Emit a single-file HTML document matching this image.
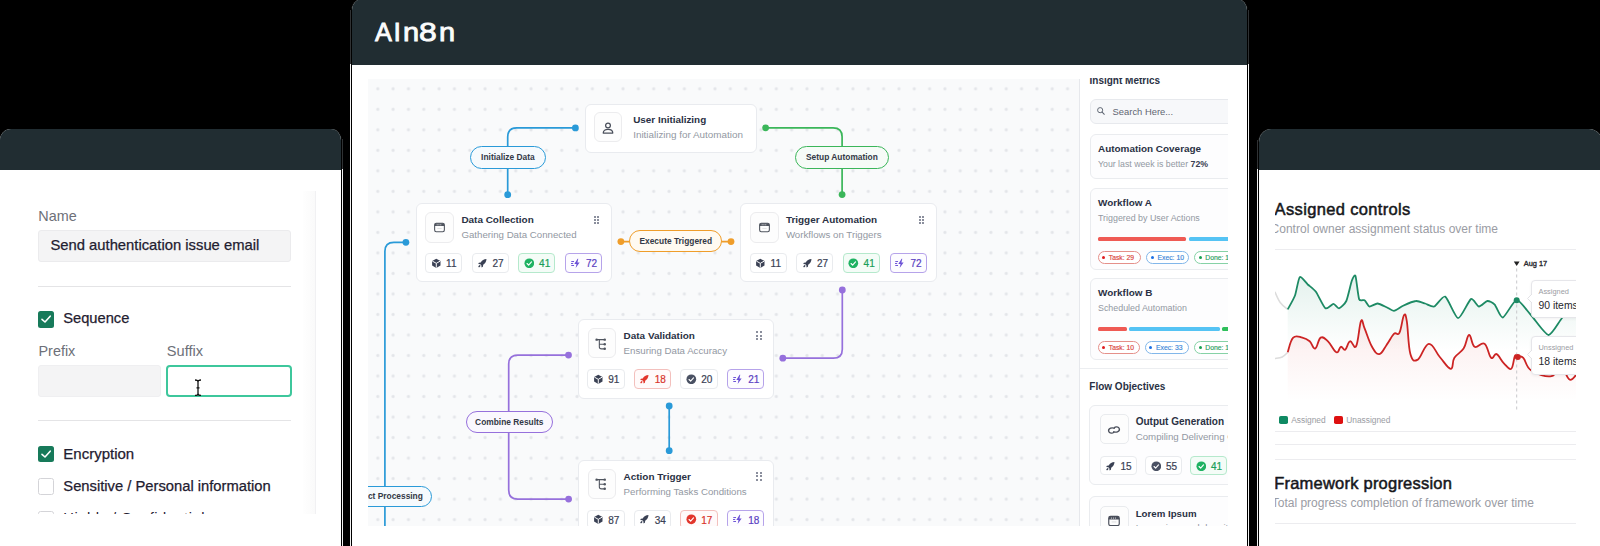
<!DOCTYPE html><html><head><meta charset="utf-8"><style>
*{box-sizing:border-box;margin:0;padding:0}
html,body{width:1600px;height:546px;overflow:hidden;background:#000}
body{position:relative;font-family:"Liberation Sans",sans-serif}
.a{position:absolute}
.t{position:absolute;white-space:nowrap;line-height:1}
.panel{position:absolute;background:#fff;overflow:hidden}
</style></head><body>
<div class="a" style="left:342px;top:139px;width:1px;height:410px;background:linear-gradient(#303234 0,#303234 30px,#f2f2f2 30px)"></div>
<div class="panel" style="left:0;top:129px;width:342px;height:430px;border-radius:11px 11px 0 0;border-right:1px solid #000">
<div class="a" style="left:0.00px;top:0.00px;width:342.00px;height:40.50px;background:#212d32"></div>
<div class="a" style="left:303.00px;top:62.00px;width:13.00px;height:323.00px;background:linear-gradient(90deg,#fefefe,#fafafa);border-right:1px solid #f1f1f3"></div>
<div class="a" style="left:0;top:40.5px;width:303px;height:344.2px;overflow:hidden">
<div class="t" style="left:38.30px;top:39.61px;font-size:14.4px;font-weight:400;color:#6d7078;">Name</div>
<div class="a" style="left:38.30px;top:60.10px;width:252.50px;height:32.00px;background:#f4f4f5;border:1px solid #ebebed;border-radius:3px"></div>
<div class="t" style="left:50.40px;top:68.57px;font-size:14.8px;font-weight:400;color:#1f2030;-webkit-text-stroke:0.25px #1f2030">Send authentication issue email</div>
<div class="a" style="left:38.30px;top:116.30px;width:252.50px;height:1.00px;background:#e4e4e6"></div>
<div class="a" style="left:38.00px;top:141.90px;width:16.20px;height:16.20px;background:#177a5a;border-radius:2.5px"><svg width="16" height="16" viewBox="0 0 16 16" style="position:absolute;left:0;top:0"><path d="M4 8.3 L7 11 L12.2 5.2" stroke="#fff" stroke-width="1.6" fill="none" stroke-linecap="round" stroke-linejoin="round"/></svg></div>
<div class="t" style="left:63.20px;top:141.45px;font-size:14.7px;font-weight:400;color:#1f2030;-webkit-text-stroke:0.25px #1f2030">Sequence</div>
<div class="t" style="left:38.50px;top:174.81px;font-size:14.4px;font-weight:400;color:#6d7078;">Prefix</div>
<div class="t" style="left:166.80px;top:174.64px;font-size:14.6px;font-weight:400;color:#6d7078;">Suffix</div>
<div class="a" style="left:38.30px;top:195.00px;width:122.80px;height:32.00px;background:#f4f4f5;border:1px solid #efeff1;border-radius:3px"></div>
<div class="a" style="left:166.00px;top:195.00px;width:125.60px;height:32.00px;background:#fff;border:2px solid #3ec79c;border-radius:4px"></div>
<svg class="a" style="left:194.00px;top:209.00px;" width="8" height="17.5" viewBox="0 0 8 17.5"><path d="M1 1 Q4 1 4 3 Q4 1 7 1 M4 3 V14.5 M1 16.5 Q4 16.5 4 14.5 Q4 16.5 7 16.5 M2.5 8.8 H5.5" stroke="#111" stroke-width="1.3" fill="none"/></svg>
<div class="a" style="left:38.30px;top:250.60px;width:252.50px;height:1.00px;background:#e4e4e6"></div>
<div class="a" style="left:38.00px;top:276.50px;width:16.20px;height:16.20px;background:#177a5a;border-radius:2.5px"><svg width="16" height="16" viewBox="0 0 16 16" style="position:absolute;left:0;top:0"><path d="M4 8.3 L7 11 L12.2 5.2" stroke="#fff" stroke-width="1.6" fill="none" stroke-linecap="round" stroke-linejoin="round"/></svg></div>
<div class="t" style="left:63.30px;top:276.10px;font-size:15px;font-weight:400;color:#1f2030;-webkit-text-stroke:0.25px #1f2030">Encryption</div>
<div class="a" style="left:38.00px;top:308.90px;width:16.20px;height:16.20px;background:#fff;border:1.3px solid #d4d4d8;border-radius:2.5px"></div>
<div class="t" style="left:63.30px;top:309.01px;font-size:14.75px;font-weight:400;color:#1f2030;-webkit-text-stroke:0.25px #1f2030">Sensitive / Personal information</div>
<div class="a" style="left:38.00px;top:341.50px;width:16.20px;height:16.20px;background:#fff;border:1.3px solid #d4d4d8;border-radius:2.5px"></div>
<div class="t" style="left:63.30px;top:341.91px;font-size:14.75px;font-weight:400;color:#1f2030;letter-spacing:0.5px">Highly / Confidential</div>
</div>
</div>
<div class="a" style="left:350px;top:10px;width:1px;height:540px;background:linear-gradient(#303234 0,#303234 54.5px,#f2f2f2 54.5px)"></div>
<div class="a" style="left:1248px;top:10px;width:1px;height:540px;background:linear-gradient(#303234 0,#303234 54.5px,#f2f2f2 54.5px)"></div>
<div class="panel" style="left:351px;top:-1px;width:897px;height:560px;border-radius:11px 11px 0 0;border-left:1px solid #000;border-right:1px solid #000">
<div class="a" style="left:0.00px;top:0.00px;width:895.00px;height:65.70px;background:#212d32"></div>
<div class="t" style="left:23.30px;top:20.18px;font-size:26.6px;font-weight:400;color:#fbfcfc;-webkit-text-stroke:0.85px #fbfcfc;transform:scaleX(0.95);transform-origin:0 0">A</div>
<div class="t" style="left:41.60px;top:20.18px;font-size:26.6px;font-weight:400;color:#fbfcfc;-webkit-text-stroke:0.85px #fbfcfc;transform:scaleX(1.0);transform-origin:0 0">I</div>
<div class="t" style="left:50.50px;top:20.18px;font-size:26.6px;font-weight:400;color:#fbfcfc;-webkit-text-stroke:0.85px #fbfcfc;transform:scaleX(1.09);transform-origin:0 0">n</div>
<div class="t" style="left:67.40px;top:20.18px;font-size:26.6px;font-weight:400;color:#fbfcfc;-webkit-text-stroke:0.85px #fbfcfc;transform:scaleX(1.2);transform-origin:0 0">8</div>
<div class="t" style="left:87.00px;top:20.18px;font-size:26.6px;font-weight:400;color:#fbfcfc;-webkit-text-stroke:0.85px #fbfcfc;transform:scaleX(1.09);transform-origin:0 0">n</div>
<div class="a" style="left:16px;top:79.5px;width:711.5px;height:447.0px;overflow:hidden;background-color:#f9fafb;background-image:radial-gradient(circle,#e3e5e9 0.9px,rgba(227,229,233,0) 2.1px);background-size:15.33px 20.52px;background-position:2.13px -0.46px;border-right:1px solid #e6e8ec">
<svg class="a" style="left:0;top:0" width="711.5" height="447.0" viewBox="368 78.5 711.5 447.0"><path d="M575.4,127.4 H516.7 Q507.7,127.4 507.7,136.4 V194.2" stroke="#2a9ad8" stroke-width="1.7" fill="none"/><circle cx="575.4" cy="127.4" r="3.4" fill="#2a9ad8"/><circle cx="507.7" cy="194.2" r="3.4" fill="#2a9ad8"/><path d="M765.6,127.3 H833.1 Q842.1,127.3 842.1,136.3 V194.1" stroke="#3bb65a" stroke-width="1.7" fill="none"/><circle cx="765.6" cy="127.3" r="3.4" fill="#3bb65a"/><circle cx="842.1" cy="194.1" r="3.4" fill="#3bb65a"/><path d="M620.9,241.1 H731" stroke="#ef9d2a" stroke-width="1.7" fill="none"/><circle cx="620.9" cy="241.1" r="3.4" fill="#ef9d2a"/><circle cx="731" cy="241.1" r="3.4" fill="#ef9d2a"/><path d="M842.3,289.5 V348.7 Q842.3,357.7 833.3,357.7 H782.8" stroke="#9670dc" stroke-width="1.7" fill="none"/><circle cx="842.3" cy="289.5" r="3.4" fill="#9670dc"/><circle cx="782.8" cy="357.7" r="3.4" fill="#9670dc"/><path d="M568.5,354.6 H517.7 Q508.7,354.6 508.7,363.6 V489.6 Q508.7,498.6 517.7,498.6 H568.6" stroke="#9670dc" stroke-width="1.7" fill="none"/><circle cx="568.5" cy="354.6" r="3.4" fill="#9670dc"/><circle cx="568.6" cy="498.6" r="3.4" fill="#9670dc"/><path d="M669.2,405.5 V450.2" stroke="#2a9ad8" stroke-width="1.7" fill="none"/><circle cx="669.2" cy="405.5" r="3.4" fill="#2a9ad8"/><circle cx="669.2" cy="450.2" r="3.4" fill="#2a9ad8"/><path d="M405.9,241.8 H393.9 Q384.9,241.8 384.9,250.8 V540" stroke="#2a9ad8" stroke-width="1.7" fill="none"/><circle cx="405.9" cy="241.8" r="3.4" fill="#2a9ad8"/></svg>
<div class="a" style="left:102.20px;top:67.40px;width:75.40px;height:23.10px;border:1.8px solid #2a9ad8;background:#f6fafd;border-radius:12px"></div><div class="t" style="left:102.20px;top:67.40px;width:75.40px;height:23.10px;line-height:23.10px;text-align:center;font-size:8.4px;font-weight:700;color:#333946">Initialize Data</div>
<div class="a" style="left:427.30px;top:67.80px;width:93.30px;height:22.40px;border:1.8px solid #3bb65a;background:#f6fbf7;border-radius:12px"></div><div class="t" style="left:427.30px;top:67.80px;width:93.30px;height:22.40px;line-height:22.40px;text-align:center;font-size:8.4px;font-weight:700;color:#333946">Setup Automation</div>
<div class="a" style="left:261.20px;top:151.60px;width:93.20px;height:22.00px;border:1.8px solid #ef9d2a;background:#fffaf1;border-radius:12px"></div><div class="t" style="left:261.20px;top:151.60px;width:93.20px;height:22.00px;line-height:22.00px;text-align:center;font-size:8.4px;font-weight:700;color:#333946">Execute Triggered</div>
<div class="a" style="left:97.80px;top:332.80px;width:87.00px;height:22.20px;border:1.8px solid #9670dc;background:#faf8fe;border-radius:12px"></div><div class="t" style="left:97.80px;top:332.80px;width:87.00px;height:22.20px;line-height:22.20px;text-align:center;font-size:8.4px;font-weight:700;color:#333946">Combine Results</div>
<div class="a" style="left:-30.20px;top:407.00px;width:94.20px;height:21.60px;border:1.8px solid #2a9ad8;background:#f6fafd;border-radius:12px"></div><div class="t" style="left:-30.20px;top:407.00px;width:94.20px;height:21.60px;line-height:21.60px;text-align:center;font-size:8.4px;font-weight:700;color:#333946">Extract Processing</div>
<div class="a" style="left:47.50px;top:124.70px;width:196.50px;height:79.30px;background:#fff;border:1px solid #e9ebef;border-radius:6px"></div><div class="a" style="left:57.30px;top:133.80px;width:28.80px;height:30.30px;background:#fdfdfd;border:1px solid #ececee;border-radius:6px"></div><svg class="a" style="left:65.20px;top:142.50px;" width="13" height="13" viewBox="0 0 24 24"><rect x="3" y="4.2" width="18" height="15.6" rx="3" stroke="#50555f" stroke-width="2" fill="none"/><path d="M3 9.3 V7 Q3 4.2 6 4.2 H18 Q21 4.2 21 7 V9.3 Z" fill="#50555f"/><circle cx="7.6" cy="6.9" r="0.95" fill="#fff"/><circle cx="11" cy="6.9" r="0.95" fill="#fff"/><circle cx="14.4" cy="6.9" r="0.95" fill="#fff"/><path d="M8 13.6 H16" stroke="#50555f" stroke-width="0.9" opacity="0.35"/></svg><div class="t" style="left:93.40px;top:136.58px;font-size:9.95px;font-weight:700;color:#2a3144;">Data Collection</div><div class="t" style="left:93.40px;top:151.79px;font-size:9.7px;font-weight:400;color:#9298a2;">Gathering Data Connected</div><div class="a" style="left:226.10px;top:137.00px;width:2.10px;height:2.10px;background:#646a7c;border-radius:50%"></div><div class="a" style="left:226.10px;top:140.35px;width:2.10px;height:2.10px;background:#646a7c;border-radius:50%"></div><div class="a" style="left:226.10px;top:143.70px;width:2.10px;height:2.10px;background:#646a7c;border-radius:50%"></div><div class="a" style="left:229.30px;top:137.00px;width:2.10px;height:2.10px;background:#646a7c;border-radius:50%"></div><div class="a" style="left:229.30px;top:140.35px;width:2.10px;height:2.10px;background:#646a7c;border-radius:50%"></div><div class="a" style="left:229.30px;top:143.70px;width:2.10px;height:2.10px;background:#646a7c;border-radius:50%"></div><div class="a" style="left:57.10px;top:174.70px;width:37.30px;height:19.80px;border:1px solid #e9ebee;background:#fff;border-radius:4px"></div><svg class="a" style="left:62.80px;top:179.30px;" width="10.6" height="10.6" viewBox="0 0 24 24"><path d="M12 1.5 L21.5 6.8 V17.2 L12 22.5 L2.5 17.2 V6.8 Z" fill="#3a4154"/><path d="M3 7 L12 12 L21 7 M12 12 V22" stroke="#fff" stroke-width="2.2" fill="none"/></svg><div class="t" style="left:78.10px;top:180.53px;font-size:10.0px;font-weight:400;color:#3a4154;-webkit-text-stroke:0.2px #3a4154">11</div><div class="a" style="left:103.50px;top:174.70px;width:37.30px;height:19.80px;border:1px solid #e9ebee;background:#fff;border-radius:4px"></div><svg class="a" style="left:109.20px;top:179.30px;" width="10.6" height="10.6" viewBox="0 0 24 24"><path d="M21.5 2.5 C15.5 2.5 11 6 8.5 10 L4.3 10.6 L2.8 13.8 L7.6 14.3 L9.8 16.6 L10.3 21.3 L13.4 19.7 L14 15.5 C18 13 21.5 8.5 21.5 2.5 Z" fill="#3a4154"/><ellipse cx="5.4" cy="18.6" rx="2.9" ry="1.8" transform="rotate(-45 5.4 18.6)" fill="#3a4154"/></svg><div class="t" style="left:124.50px;top:180.53px;font-size:10.0px;font-weight:400;color:#3a4154;-webkit-text-stroke:0.2px #3a4154">27</div><div class="a" style="left:150.10px;top:174.70px;width:37.30px;height:19.80px;border:1px solid #b5e9cc;background:#f4fcf7;border-radius:4px"></div><svg class="a" style="left:155.80px;top:179.30px;" width="10.6" height="10.6" viewBox="0 0 24 24"><circle cx="12" cy="12" r="11" fill="#1fb262"/><path d="M7 12.5 L10.5 16 L17 9" stroke="#fff" stroke-width="2.6" fill="none" stroke-linecap="round" stroke-linejoin="round"/></svg><div class="t" style="left:171.10px;top:180.53px;font-size:10.0px;font-weight:400;color:#1a9e58;-webkit-text-stroke:0.2px #1a9e58">41</div><div class="a" style="left:197.00px;top:174.70px;width:37.30px;height:19.80px;border:1px solid #b6a3ea;background:#fdfcff;border-radius:4px"></div><svg class="a" style="left:202.70px;top:179.30px;" width="10.6" height="10.6" viewBox="0 0 24 24"><path d="M15 1.5 L7.5 13.5 H12.5 L10.5 22.5 L19.5 10 H14.5 L16.5 1.5 Z" fill="#6a4fd6"/><path d="M1.5 8 H6 M0.5 12.5 H4 M1.5 17 H6" stroke="#6a4fd6" stroke-width="2.2" stroke-linecap="round"/></svg><div class="t" style="left:218.00px;top:180.53px;font-size:10.0px;font-weight:400;color:#5a3fc2;-webkit-text-stroke:0.2px #5a3fc2">72</div>
<div class="a" style="left:372.00px;top:124.70px;width:197.00px;height:79.30px;background:#fff;border:1px solid #e9ebef;border-radius:6px"></div><div class="a" style="left:381.80px;top:133.80px;width:28.80px;height:30.30px;background:#fdfdfd;border:1px solid #ececee;border-radius:6px"></div><svg class="a" style="left:389.70px;top:142.50px;" width="13" height="13" viewBox="0 0 24 24"><rect x="3" y="4.2" width="18" height="15.6" rx="3" stroke="#50555f" stroke-width="2" fill="none"/><path d="M3 9.3 V7 Q3 4.2 6 4.2 H18 Q21 4.2 21 7 V9.3 Z" fill="#50555f"/><circle cx="7.6" cy="6.9" r="0.95" fill="#fff"/><circle cx="11" cy="6.9" r="0.95" fill="#fff"/><circle cx="14.4" cy="6.9" r="0.95" fill="#fff"/><path d="M8 13.6 H16" stroke="#50555f" stroke-width="0.9" opacity="0.35"/></svg><div class="t" style="left:417.90px;top:136.58px;font-size:9.95px;font-weight:700;color:#2a3144;">Trigger Automation</div><div class="t" style="left:417.90px;top:151.79px;font-size:9.7px;font-weight:400;color:#9298a2;">Workflows on Triggers</div><div class="a" style="left:550.60px;top:137.00px;width:2.10px;height:2.10px;background:#646a7c;border-radius:50%"></div><div class="a" style="left:550.60px;top:140.35px;width:2.10px;height:2.10px;background:#646a7c;border-radius:50%"></div><div class="a" style="left:550.60px;top:143.70px;width:2.10px;height:2.10px;background:#646a7c;border-radius:50%"></div><div class="a" style="left:553.80px;top:137.00px;width:2.10px;height:2.10px;background:#646a7c;border-radius:50%"></div><div class="a" style="left:553.80px;top:140.35px;width:2.10px;height:2.10px;background:#646a7c;border-radius:50%"></div><div class="a" style="left:553.80px;top:143.70px;width:2.10px;height:2.10px;background:#646a7c;border-radius:50%"></div><div class="a" style="left:381.60px;top:174.70px;width:37.30px;height:19.80px;border:1px solid #e9ebee;background:#fff;border-radius:4px"></div><svg class="a" style="left:387.30px;top:179.30px;" width="10.6" height="10.6" viewBox="0 0 24 24"><path d="M12 1.5 L21.5 6.8 V17.2 L12 22.5 L2.5 17.2 V6.8 Z" fill="#3a4154"/><path d="M3 7 L12 12 L21 7 M12 12 V22" stroke="#fff" stroke-width="2.2" fill="none"/></svg><div class="t" style="left:402.60px;top:180.53px;font-size:10.0px;font-weight:400;color:#3a4154;-webkit-text-stroke:0.2px #3a4154">11</div><div class="a" style="left:428.00px;top:174.70px;width:37.30px;height:19.80px;border:1px solid #e9ebee;background:#fff;border-radius:4px"></div><svg class="a" style="left:433.70px;top:179.30px;" width="10.6" height="10.6" viewBox="0 0 24 24"><path d="M21.5 2.5 C15.5 2.5 11 6 8.5 10 L4.3 10.6 L2.8 13.8 L7.6 14.3 L9.8 16.6 L10.3 21.3 L13.4 19.7 L14 15.5 C18 13 21.5 8.5 21.5 2.5 Z" fill="#3a4154"/><ellipse cx="5.4" cy="18.6" rx="2.9" ry="1.8" transform="rotate(-45 5.4 18.6)" fill="#3a4154"/></svg><div class="t" style="left:449.00px;top:180.53px;font-size:10.0px;font-weight:400;color:#3a4154;-webkit-text-stroke:0.2px #3a4154">27</div><div class="a" style="left:474.60px;top:174.70px;width:37.30px;height:19.80px;border:1px solid #b5e9cc;background:#f4fcf7;border-radius:4px"></div><svg class="a" style="left:480.30px;top:179.30px;" width="10.6" height="10.6" viewBox="0 0 24 24"><circle cx="12" cy="12" r="11" fill="#1fb262"/><path d="M7 12.5 L10.5 16 L17 9" stroke="#fff" stroke-width="2.6" fill="none" stroke-linecap="round" stroke-linejoin="round"/></svg><div class="t" style="left:495.60px;top:180.53px;font-size:10.0px;font-weight:400;color:#1a9e58;-webkit-text-stroke:0.2px #1a9e58">41</div><div class="a" style="left:521.50px;top:174.70px;width:37.30px;height:19.80px;border:1px solid #b6a3ea;background:#fdfcff;border-radius:4px"></div><svg class="a" style="left:527.20px;top:179.30px;" width="10.6" height="10.6" viewBox="0 0 24 24"><path d="M15 1.5 L7.5 13.5 H12.5 L10.5 22.5 L19.5 10 H14.5 L16.5 1.5 Z" fill="#6a4fd6"/><path d="M1.5 8 H6 M0.5 12.5 H4 M1.5 17 H6" stroke="#6a4fd6" stroke-width="2.2" stroke-linecap="round"/></svg><div class="t" style="left:542.50px;top:180.53px;font-size:10.0px;font-weight:400;color:#5a3fc2;-webkit-text-stroke:0.2px #5a3fc2">72</div>
<div class="a" style="left:209.70px;top:240.50px;width:196.00px;height:79.70px;background:#fff;border:1px solid #e9ebef;border-radius:6px"></div><div class="a" style="left:219.50px;top:249.60px;width:28.80px;height:30.30px;background:#fdfdfd;border:1px solid #ececee;border-radius:6px"></div><svg class="a" style="left:227.40px;top:259.10px;" width="13" height="13" viewBox="0 0 24 24"><path d="M3 3 H17 M8 3 V16 Q8 20 12 20 H18 M8 11.5 H18" stroke="#50555f" stroke-width="2" fill="none"/><circle cx="3" cy="3" r="2.3" fill="#50555f"/><circle cx="18" cy="3" r="2.3" fill="#50555f"/><circle cx="18" cy="11.5" r="2.3" fill="#50555f"/><circle cx="18" cy="20" r="2.3" fill="#50555f"/></svg><div class="t" style="left:255.60px;top:252.38px;font-size:9.95px;font-weight:700;color:#2a3144;">Data Validation</div><div class="t" style="left:255.60px;top:267.59px;font-size:9.7px;font-weight:400;color:#9298a2;">Ensuring Data Accuracy</div><div class="a" style="left:388.30px;top:252.80px;width:2.10px;height:2.10px;background:#646a7c;border-radius:50%"></div><div class="a" style="left:388.30px;top:256.15px;width:2.10px;height:2.10px;background:#646a7c;border-radius:50%"></div><div class="a" style="left:388.30px;top:259.50px;width:2.10px;height:2.10px;background:#646a7c;border-radius:50%"></div><div class="a" style="left:391.50px;top:252.80px;width:2.10px;height:2.10px;background:#646a7c;border-radius:50%"></div><div class="a" style="left:391.50px;top:256.15px;width:2.10px;height:2.10px;background:#646a7c;border-radius:50%"></div><div class="a" style="left:391.50px;top:259.50px;width:2.10px;height:2.10px;background:#646a7c;border-radius:50%"></div><div class="a" style="left:219.30px;top:290.50px;width:37.30px;height:19.80px;border:1px solid #e9ebee;background:#fff;border-radius:4px"></div><svg class="a" style="left:225.00px;top:295.10px;" width="10.6" height="10.6" viewBox="0 0 24 24"><path d="M12 1.5 L21.5 6.8 V17.2 L12 22.5 L2.5 17.2 V6.8 Z" fill="#3a4154"/><path d="M3 7 L12 12 L21 7 M12 12 V22" stroke="#fff" stroke-width="2.2" fill="none"/></svg><div class="t" style="left:240.30px;top:296.33px;font-size:10.0px;font-weight:400;color:#3a4154;-webkit-text-stroke:0.2px #3a4154">91</div><div class="a" style="left:265.70px;top:290.50px;width:37.30px;height:19.80px;border:1px solid #f3c0bd;background:#fffafa;border-radius:4px"></div><svg class="a" style="left:271.40px;top:295.10px;" width="10.6" height="10.6" viewBox="0 0 24 24"><path d="M21.5 2.5 C15.5 2.5 11 6 8.5 10 L4.3 10.6 L2.8 13.8 L7.6 14.3 L9.8 16.6 L10.3 21.3 L13.4 19.7 L14 15.5 C18 13 21.5 8.5 21.5 2.5 Z" fill="#e2362c"/><ellipse cx="5.4" cy="18.6" rx="2.9" ry="1.8" transform="rotate(-45 5.4 18.6)" fill="#e2362c"/></svg><div class="t" style="left:286.70px;top:296.33px;font-size:10.0px;font-weight:400;color:#d8342b;-webkit-text-stroke:0.2px #d8342b">18</div><div class="a" style="left:312.30px;top:290.50px;width:37.30px;height:19.80px;border:1px solid #e9ebee;background:#fff;border-radius:4px"></div><svg class="a" style="left:318.00px;top:295.10px;" width="10.6" height="10.6" viewBox="0 0 24 24"><circle cx="12" cy="12" r="11" fill="#4a5163"/><path d="M7 12.5 L10.5 16 L17 9" stroke="#fff" stroke-width="2.6" fill="none" stroke-linecap="round" stroke-linejoin="round"/></svg><div class="t" style="left:333.30px;top:296.33px;font-size:10.0px;font-weight:400;color:#3a4154;-webkit-text-stroke:0.2px #3a4154">20</div><div class="a" style="left:359.20px;top:290.50px;width:37.30px;height:19.80px;border:1px solid #b6a3ea;background:#fdfcff;border-radius:4px"></div><svg class="a" style="left:364.90px;top:295.10px;" width="10.6" height="10.6" viewBox="0 0 24 24"><path d="M15 1.5 L7.5 13.5 H12.5 L10.5 22.5 L19.5 10 H14.5 L16.5 1.5 Z" fill="#6a4fd6"/><path d="M1.5 8 H6 M0.5 12.5 H4 M1.5 17 H6" stroke="#6a4fd6" stroke-width="2.2" stroke-linecap="round"/></svg><div class="t" style="left:380.20px;top:296.33px;font-size:10.0px;font-weight:400;color:#5a3fc2;-webkit-text-stroke:0.2px #5a3fc2">21</div>
<div class="a" style="left:209.70px;top:381.20px;width:196.40px;height:80.00px;background:#fff;border:1px solid #e9ebef;border-radius:6px"></div><div class="a" style="left:219.50px;top:390.30px;width:28.80px;height:30.30px;background:#fdfdfd;border:1px solid #ececee;border-radius:6px"></div><svg class="a" style="left:227.40px;top:399.80px;" width="13" height="13" viewBox="0 0 24 24"><path d="M3 3 H17 M8 3 V16 Q8 20 12 20 H18 M8 11.5 H18" stroke="#50555f" stroke-width="2" fill="none"/><circle cx="3" cy="3" r="2.3" fill="#50555f"/><circle cx="18" cy="3" r="2.3" fill="#50555f"/><circle cx="18" cy="11.5" r="2.3" fill="#50555f"/><circle cx="18" cy="20" r="2.3" fill="#50555f"/></svg><div class="t" style="left:255.60px;top:393.08px;font-size:9.95px;font-weight:700;color:#2a3144;">Action Trigger</div><div class="t" style="left:255.60px;top:408.29px;font-size:9.7px;font-weight:400;color:#9298a2;">Performing Tasks Conditions</div><div class="a" style="left:388.30px;top:393.50px;width:2.10px;height:2.10px;background:#646a7c;border-radius:50%"></div><div class="a" style="left:388.30px;top:396.85px;width:2.10px;height:2.10px;background:#646a7c;border-radius:50%"></div><div class="a" style="left:388.30px;top:400.20px;width:2.10px;height:2.10px;background:#646a7c;border-radius:50%"></div><div class="a" style="left:391.50px;top:393.50px;width:2.10px;height:2.10px;background:#646a7c;border-radius:50%"></div><div class="a" style="left:391.50px;top:396.85px;width:2.10px;height:2.10px;background:#646a7c;border-radius:50%"></div><div class="a" style="left:391.50px;top:400.20px;width:2.10px;height:2.10px;background:#646a7c;border-radius:50%"></div><div class="a" style="left:219.30px;top:431.20px;width:37.30px;height:19.80px;border:1px solid #e9ebee;background:#fff;border-radius:4px"></div><svg class="a" style="left:225.00px;top:435.80px;" width="10.6" height="10.6" viewBox="0 0 24 24"><path d="M12 1.5 L21.5 6.8 V17.2 L12 22.5 L2.5 17.2 V6.8 Z" fill="#3a4154"/><path d="M3 7 L12 12 L21 7 M12 12 V22" stroke="#fff" stroke-width="2.2" fill="none"/></svg><div class="t" style="left:240.30px;top:437.03px;font-size:10.0px;font-weight:400;color:#3a4154;-webkit-text-stroke:0.2px #3a4154">87</div><div class="a" style="left:265.70px;top:431.20px;width:37.30px;height:19.80px;border:1px solid #e9ebee;background:#fff;border-radius:4px"></div><svg class="a" style="left:271.40px;top:435.80px;" width="10.6" height="10.6" viewBox="0 0 24 24"><path d="M21.5 2.5 C15.5 2.5 11 6 8.5 10 L4.3 10.6 L2.8 13.8 L7.6 14.3 L9.8 16.6 L10.3 21.3 L13.4 19.7 L14 15.5 C18 13 21.5 8.5 21.5 2.5 Z" fill="#3a4154"/><ellipse cx="5.4" cy="18.6" rx="2.9" ry="1.8" transform="rotate(-45 5.4 18.6)" fill="#3a4154"/></svg><div class="t" style="left:286.70px;top:437.03px;font-size:10.0px;font-weight:400;color:#3a4154;-webkit-text-stroke:0.2px #3a4154">34</div><div class="a" style="left:312.30px;top:431.20px;width:37.30px;height:19.80px;border:1px solid #f3c0bd;background:#fffafa;border-radius:4px"></div><svg class="a" style="left:318.00px;top:435.80px;" width="10.6" height="10.6" viewBox="0 0 24 24"><circle cx="12" cy="12" r="11" fill="#e2362c"/><path d="M7 12.5 L10.5 16 L17 9" stroke="#fff" stroke-width="2.6" fill="none" stroke-linecap="round" stroke-linejoin="round"/></svg><div class="t" style="left:333.30px;top:437.03px;font-size:10.0px;font-weight:400;color:#d8342b;-webkit-text-stroke:0.2px #d8342b">17</div><div class="a" style="left:359.20px;top:431.20px;width:37.30px;height:19.80px;border:1px solid #b6a3ea;background:#fdfcff;border-radius:4px"></div><svg class="a" style="left:364.90px;top:435.80px;" width="10.6" height="10.6" viewBox="0 0 24 24"><path d="M15 1.5 L7.5 13.5 H12.5 L10.5 22.5 L19.5 10 H14.5 L16.5 1.5 Z" fill="#6a4fd6"/><path d="M1.5 8 H6 M0.5 12.5 H4 M1.5 17 H6" stroke="#6a4fd6" stroke-width="2.2" stroke-linecap="round"/></svg><div class="t" style="left:380.20px;top:437.03px;font-size:10.0px;font-weight:400;color:#5a3fc2;-webkit-text-stroke:0.2px #5a3fc2">18</div>
<div class="a" style="left:216.60px;top:25.00px;width:172.00px;height:49.00px;background:#fff;border:1px solid #e9ebef;border-radius:6px"></div>
<div class="a" style="left:226.10px;top:33.90px;width:28.20px;height:29.60px;background:#fdfdfd;border:1px solid #ececee;border-radius:6px"></div>
<svg class="a" style="left:233.20px;top:42.10px;" width="14" height="14" viewBox="0 0 24 24"><circle cx="12" cy="7.6" r="4.1" stroke="#4a4f5b" stroke-width="2.1" fill="none"/><path d="M3.8 20.6 C3.8 16 7.5 14.4 12 14.4 C16.5 14.4 20.2 16 20.2 20.6 Z" stroke="#4a4f5b" stroke-width="2.1" fill="none" stroke-linejoin="round"/></svg>
<div class="t" style="left:265.20px;top:36.82px;font-size:9.9px;font-weight:700;color:#2a3144;">User Initializing</div>
<div class="t" style="left:265.20px;top:51.12px;font-size:9.9px;font-weight:400;color:#9298a2;">Initializing for Automation</div>
</div>
<div class="a" style="left:728px;top:78.6px;width:148px;height:448.4px;overflow:hidden">
<div class="t" style="left:9.50px;top:-1.87px;font-size:10.0px;font-weight:700;color:#2a3144;">Insight Metrics</div>
<div class="a" style="left:9.50px;top:21.20px;width:160.00px;height:25.50px;background:#f7f8fa;border:1px solid #e7e9ed;border-radius:6px"></div>
<svg class="a" style="left:16.00px;top:28.60px;" width="9.5" height="9.5" viewBox="0 0 24 24"><circle cx="10.5" cy="10.5" r="6.5" stroke="#5c6370" stroke-width="2.4" fill="none"/><path d="M15.5 15.5 L21 21" stroke="#5c6370" stroke-width="2.6" stroke-linecap="round"/></svg>
<div class="t" style="left:32.60px;top:29.04px;font-size:9.4px;font-weight:400;color:#5f6672;">Search Here...</div>
<div class="a" style="left:9.50px;top:56.40px;width:160.00px;height:45.20px;background:#fdfdfe;border:1px solid #eaecef;border-radius:6px"></div>
<div class="t" style="left:18.00px;top:66.78px;font-size:9.94px;font-weight:700;color:#2a3144;">Automation Coverage</div>
<div class="t" style="left:18.00px;top:81.98px;font-size:8.76px;font-weight:400;color:#9298a2;">Your last week is better <b style="color:#3a4152">72%</b></div>
<div class="a" style="left:9.50px;top:110.10px;width:160.00px;height:82.00px;background:#fdfdfe;border:1px solid #eaecef;border-radius:6px"></div><div class="t" style="left:18.00px;top:120.60px;font-size:9.92px;font-weight:700;color:#2a3144;">Workflow A</div><div class="t" style="left:18.00px;top:136.66px;font-size:8.9px;font-weight:400;color:#9298a2;">Triggered by User Actions</div><div class="a" style="left:18.00px;top:159.30px;width:88.40px;height:3.90px;background:#ef5a54;border-radius:1.5px"></div><div class="a" style="left:109.00px;top:159.30px;width:71.00px;height:3.90px;background:#55c3f4;border-radius:1.5px"></div><div class="a" style="left:17.60px;top:173.80px;width:43.20px;height:12.50px;border:1.2px solid #e5908a;border-radius:7px;background:#fff"></div><div class="a" style="left:22.20px;top:178.60px;width:3.00px;height:3.00px;background:#e11d1d;border-radius:50%"></div><div class="t" style="left:28.80px;top:177.24px;font-size:6.8px;font-weight:400;color:#d9443c;-webkit-text-stroke:0.15px #d9443c">Task: 29</div><div class="a" style="left:66.30px;top:173.80px;width:42.70px;height:12.50px;border:1.2px solid #82b7ea;border-radius:7px;background:#fff"></div><div class="a" style="left:70.90px;top:178.60px;width:3.00px;height:3.00px;background:#1a6fe6;border-radius:50%"></div><div class="t" style="left:77.50px;top:177.24px;font-size:6.8px;font-weight:400;color:#3a86d8;-webkit-text-stroke:0.15px #3a86d8">Exec: 10</div><div class="a" style="left:114.10px;top:173.80px;width:45.90px;height:12.50px;border:1.2px solid #86d2a6;border-radius:7px;background:#fff"></div><div class="a" style="left:118.70px;top:178.60px;width:3.00px;height:3.00px;background:#17a050;border-radius:50%"></div><div class="t" style="left:125.30px;top:177.24px;font-size:6.8px;font-weight:400;color:#2aa060;-webkit-text-stroke:0.15px #2aa060">Done: 14</div>
<div class="a" style="left:9.50px;top:200.10px;width:160.00px;height:82.00px;background:#fdfdfe;border:1px solid #eaecef;border-radius:6px"></div><div class="t" style="left:18.00px;top:210.60px;font-size:9.92px;font-weight:700;color:#2a3144;">Workflow B</div><div class="t" style="left:18.00px;top:226.66px;font-size:8.9px;font-weight:400;color:#9298a2;">Scheduled Automation</div><div class="a" style="left:18.00px;top:249.30px;width:29.00px;height:3.90px;background:#ef5a54;border-radius:1.5px"></div><div class="a" style="left:49.00px;top:249.30px;width:91.00px;height:3.90px;background:#55c3f4;border-radius:1.5px"></div><div class="a" style="left:142.00px;top:249.30px;width:38.00px;height:3.90px;background:#2fbf5b;border-radius:1.5px"></div><div class="a" style="left:17.60px;top:263.80px;width:42.30px;height:12.50px;border:1.2px solid #e5908a;border-radius:7px;background:#fff"></div><div class="a" style="left:22.20px;top:268.60px;width:3.00px;height:3.00px;background:#e11d1d;border-radius:50%"></div><div class="t" style="left:28.80px;top:267.24px;font-size:6.8px;font-weight:400;color:#d9443c;-webkit-text-stroke:0.15px #d9443c">Task: 10</div><div class="a" style="left:64.80px;top:263.80px;width:44.20px;height:12.50px;border:1.2px solid #82b7ea;border-radius:7px;background:#fff"></div><div class="a" style="left:69.40px;top:268.60px;width:3.00px;height:3.00px;background:#1a6fe6;border-radius:50%"></div><div class="t" style="left:76.00px;top:267.24px;font-size:6.8px;font-weight:400;color:#3a86d8;-webkit-text-stroke:0.15px #3a86d8">Exec: 33</div><div class="a" style="left:114.10px;top:263.80px;width:45.90px;height:12.50px;border:1.2px solid #86d2a6;border-radius:7px;background:#fff"></div><div class="a" style="left:118.70px;top:268.60px;width:3.00px;height:3.00px;background:#17a050;border-radius:50%"></div><div class="t" style="left:125.30px;top:267.24px;font-size:6.8px;font-weight:400;color:#2aa060;-webkit-text-stroke:0.15px #2aa060">Done: 14</div>
<div class="a" style="left:0.00px;top:290.60px;width:148.00px;height:1.00px;background:#eceef1"></div>
<div class="t" style="left:9.30px;top:304.63px;font-size:10.0px;font-weight:700;color:#2a3144;">Flow Objectives</div>
<div class="a" style="left:9.30px;top:327.70px;width:160.00px;height:80.20px;background:#fdfdfe;border:1px solid #eaecef;border-radius:6px"></div><div class="a" style="left:19.50px;top:336.90px;width:29.00px;height:30.00px;background:#fdfdfd;border:1px solid #e9ebee;border-radius:5px"></div><svg class="a" style="left:27.10px;top:345.70px;" width="14" height="14" viewBox="0 0 24 24"><g transform="rotate(-12 12 12)"><path d="M12.8 9.2 C10.5 6.9 2.6 6.9 2.6 12 C2.6 16.6 8.6 17.6 11 15.4" stroke="#4a4f5b" stroke-width="2.3" fill="none" stroke-linecap="round"/><path d="M11.2 14.8 C13.5 17.1 21.4 17.1 21.4 12 C21.4 7.4 15.4 6.4 13 8.6" stroke="#4a4f5b" stroke-width="2.3" fill="none" stroke-linecap="round"/></g></svg><div class="t" style="left:55.70px;top:339.73px;font-size:10.0px;font-weight:700;color:#2a3144;">Output Generation</div><div class="t" style="left:55.70px;top:354.69px;font-size:9.7px;font-weight:400;color:#9298a2;">Compiling Delivering Output</div><div class="a" style="left:19.50px;top:378.50px;width:37.00px;height:19.10px;border:1px solid #e9ebee;background:#fff;border-radius:4px"></div><svg class="a" style="left:25.20px;top:383.10px;" width="10.6" height="10.6" viewBox="0 0 24 24"><path d="M21.5 2.5 C15.5 2.5 11 6 8.5 10 L4.3 10.6 L2.8 13.8 L7.6 14.3 L9.8 16.6 L10.3 21.3 L13.4 19.7 L14 15.5 C18 13 21.5 8.5 21.5 2.5 Z" fill="#3a4154"/><ellipse cx="5.4" cy="18.6" rx="2.9" ry="1.8" transform="rotate(-45 5.4 18.6)" fill="#3a4154"/></svg><div class="t" style="left:40.50px;top:384.33px;font-size:10.0px;font-weight:400;color:#3a4154;-webkit-text-stroke:0.2px #3a4154">15</div><div class="a" style="left:64.90px;top:378.50px;width:37.00px;height:19.10px;border:1px solid #e9ebee;background:#fff;border-radius:4px"></div><svg class="a" style="left:70.60px;top:383.10px;" width="10.6" height="10.6" viewBox="0 0 24 24"><circle cx="12" cy="12" r="11" fill="#4a5163"/><path d="M7 12.5 L10.5 16 L17 9" stroke="#fff" stroke-width="2.6" fill="none" stroke-linecap="round" stroke-linejoin="round"/></svg><div class="t" style="left:85.90px;top:384.33px;font-size:10.0px;font-weight:400;color:#3a4154;-webkit-text-stroke:0.2px #3a4154">55</div><div class="a" style="left:109.90px;top:378.50px;width:37.00px;height:19.10px;border:1px solid #b5e9cc;background:#f4fcf7;border-radius:4px"></div><svg class="a" style="left:115.60px;top:383.10px;" width="10.6" height="10.6" viewBox="0 0 24 24"><circle cx="12" cy="12" r="11" fill="#1fb262"/><path d="M7 12.5 L10.5 16 L17 9" stroke="#fff" stroke-width="2.6" fill="none" stroke-linecap="round" stroke-linejoin="round"/></svg><div class="t" style="left:130.90px;top:384.33px;font-size:10.0px;font-weight:400;color:#1a9e58;-webkit-text-stroke:0.2px #1a9e58">41</div>
<div class="a" style="left:9.30px;top:418.10px;width:160.00px;height:80.00px;background:#fdfdfe;border:1px solid #eaecef;border-radius:6px"></div><div class="a" style="left:19.50px;top:428.40px;width:29.00px;height:30.00px;background:#fdfdfd;border:1px solid #e9ebee;border-radius:5px"></div><svg class="a" style="left:27.10px;top:436.60px;" width="14" height="14" viewBox="0 0 24 24"><rect x="3" y="4.2" width="18" height="15.6" rx="3" stroke="#4a4f5b" stroke-width="2" fill="none"/><path d="M3 9.3 V7 Q3 4.2 6 4.2 H18 Q21 4.2 21 7 V9.3 Z" fill="#4a4f5b"/><circle cx="7.6" cy="6.9" r="0.95" fill="#fff"/><circle cx="11" cy="6.9" r="0.95" fill="#fff"/><circle cx="14.4" cy="6.9" r="0.95" fill="#fff"/><path d="M8 13.6 H16" stroke="#4a4f5b" stroke-width="0.9" opacity="0.35"/></svg><div class="t" style="left:55.70px;top:430.99px;font-size:9.7px;font-weight:700;color:#2a3144;">Lorem Ipsum</div><div class="t" style="left:55.70px;top:445.69px;font-size:9.7px;font-weight:400;color:#9298a2;">Lorem ipsum dolor sit amet</div>
</div>
</div>
<div class="a" style="left:1257px;top:140px;width:1px;height:410px;background:linear-gradient(#303234 0,#303234 29.5px,#f2f2f2 29.5px)"></div>
<div class="panel" style="left:1258px;top:129px;width:344px;height:430px;border-radius:13px 13px 0 0;border-left:1px solid #000">
<div class="a" style="left:0.00px;top:0.00px;width:343.00px;height:40.50px;background:#212d32"></div>
<div class="a" style="left:15.8px;top:40.5px;width:301.2px;height:376.5px;overflow:hidden">
<div class="t" style="left:-0.20px;top:31.13px;font-size:16.5px;font-weight:400;color:#16171b;letter-spacing:0.34px;-webkit-text-stroke:0.5px #16171b">Assigned controls</div>
<div class="t" style="left:-4.20px;top:53.34px;font-size:12px;font-weight:400;color:#9a9ca4;">Control owner assignment status over time</div>
<div class="a" style="left:-4.80px;top:79.10px;width:320.00px;height:1.00px;background:#ececef"></div>
<div class="a" style="left:-4.80px;top:261.50px;width:320.00px;height:1.00px;background:#ececef"></div>
<div class="a" style="left:-4.80px;top:274.70px;width:320.00px;height:1.00px;background:#ececef"></div>
<div class="a" style="left:-4.80px;top:289.20px;width:320.00px;height:1.00px;background:#ececef"></div>
<div class="a" style="left:-4.80px;top:353.80px;width:320.00px;height:1.00px;background:#ececef"></div>
<div class="t" style="left:-0.60px;top:305.33px;font-size:16.5px;font-weight:400;color:#16171b;letter-spacing:0.22px;-webkit-text-stroke:0.5px #16171b">Framework progression</div>
<div class="t" style="left:-3.10px;top:327.54px;font-size:12px;font-weight:400;color:#9a9ca4;">Total progress completion of framework over time</div>
<svg class="a" style="left:0;top:0" width="301.2" height="376.5" viewBox="1274.8 169.5 301.2 376.5"><defs><linearGradient id="gg" x1="0" y1="0" x2="0" y2="1"><stop offset="0" stop-color="#1f8f6a" stop-opacity="0.12"/><stop offset="1" stop-color="#1f8f6a" stop-opacity="0"/></linearGradient><linearGradient id="rg" x1="0" y1="0" x2="0" y2="1"><stop offset="0" stop-color="#e03a3a" stop-opacity="0.10"/><stop offset="1" stop-color="#d42a2a" stop-opacity="0"/></linearGradient></defs><path d="M1287.5,350 L1287.5,308.9 L1294.8,295.0 L1299.6,276.6 L1307.6,284.0 L1315.7,291.3 L1325.2,307.8 L1333.3,303.4 L1338.8,307.8 L1346.1,300.5 L1351.6,280.3 L1355.3,275.5 L1358.9,298.6 L1364.4,299.7 L1369.2,306.0 L1377.3,303.0 L1386.4,306.7 L1393.7,310.4 L1402.9,305.2 L1415.7,300.5 L1424.9,303.0 L1434.1,306.0 L1445.0,296.1 L1457.9,317.7 L1470.7,298.6 L1478.8,306.0 L1487.2,300.5 L1494.5,304.1 L1502.6,317.0 L1516.5,299.7 L1531.2,315.1 L1548.4,334.5 L1562.3,317.0 L1578.8,302.3 L1578.8,350 Z" fill="url(#gg)"/><path d="M1287.5,400 L1287.5,351.8 L1293.0,337.1 L1302.1,337.1 L1309.5,340.8 L1315.0,348.1 L1320.5,337.1 L1327.8,340.8 L1336.2,351.8 L1340.6,346.3 L1345.0,349.2 L1349.8,340.8 L1356.0,345.5 L1360.8,320.6 L1364.4,327.9 L1371.8,346.3 L1379.1,353.6 L1386.4,344.4 L1393.7,333.4 L1399.2,332.3 L1403.6,315.1 L1406.6,320.6 L1410.2,353.6 L1417.6,359.1 L1428.6,343.3 L1439.6,356.5 L1450.5,368.3 L1454.2,357.3 L1463.4,348.1 L1468.9,334.5 L1474.4,346.3 L1484.3,343.3 L1490.9,357.3 L1496.4,353.6 L1503.7,362.8 L1511.0,368.3 L1514.7,355.4 L1517.6,356.5 L1523.1,357.3 L1531.2,370.1 L1551.3,375.6 L1560.5,364.6 L1569.6,379.2 L1578.8,370.1 L1578.8,400 Z" fill="url(#rg)"/><path d="M1274.7,291.3 C1275.6,293.3 1277.8,299.1 1280.2,302.3 C1282.5,305.5 1286.2,307.7 1287.5,308.9" stroke="#dcdcdc" stroke-width="1.6" fill="none"/><path d="M1274.7,358.0 C1276.0,357.7 1279.7,357.6 1282.0,356.5 C1284.3,355.4 1286.5,352.6 1287.5,351.8" stroke="#dcdcdc" stroke-width="1.6" fill="none"/><path d="M1287.5,308.9 C1288.3,307.4 1293.5,298.5 1294.8,295.0 C1296.1,291.4 1298.2,277.9 1299.6,276.6 C1301.0,275.4 1305.9,282.4 1307.6,284.0 C1309.4,285.6 1313.8,288.7 1315.7,291.3 C1317.6,293.9 1323.3,306.5 1325.2,307.8 C1327.2,309.1 1331.8,303.4 1333.3,303.4 C1334.8,303.4 1337.4,308.1 1338.8,307.8 C1340.2,307.5 1344.7,303.5 1346.1,300.5 C1347.5,297.4 1350.6,283.0 1351.6,280.3 C1352.6,277.6 1354.5,273.5 1355.3,275.5 C1356.1,277.6 1357.9,296.0 1358.9,298.6 C1359.9,301.3 1363.3,298.9 1364.4,299.7 C1365.6,300.5 1367.8,305.6 1369.2,306.0 C1370.6,306.3 1375.4,302.9 1377.3,303.0 C1379.2,303.1 1384.6,305.9 1386.4,306.7 C1388.2,307.5 1391.9,310.5 1393.7,310.4 C1395.6,310.2 1400.5,306.3 1402.9,305.2 C1405.3,304.1 1413.3,300.7 1415.7,300.5 C1418.2,300.2 1422.9,302.4 1424.9,303.0 C1426.9,303.6 1431.8,306.7 1434.1,306.0 C1436.3,305.2 1442.4,294.8 1445.0,296.1 C1447.7,297.4 1455.1,317.4 1457.9,317.7 C1460.7,318.0 1468.4,299.9 1470.7,298.6 C1473.0,297.3 1476.9,305.8 1478.8,306.0 C1480.6,306.2 1485.5,300.7 1487.2,300.5 C1488.9,300.3 1492.8,302.3 1494.5,304.1 C1496.2,305.9 1500.2,317.4 1502.6,317.0 C1505.0,316.5 1513.4,299.9 1516.5,299.7 C1519.6,299.5 1527.7,311.3 1531.2,315.1 C1534.7,318.9 1545.0,334.3 1548.4,334.5 C1551.8,334.7 1559.0,320.5 1562.3,317.0 C1565.7,313.4 1577.0,303.9 1578.8,302.3" stroke="#1d8a64" stroke-width="1.8" fill="none" stroke-linejoin="round"/><path d="M1287.5,351.8 C1288.6,348.8 1290.0,340.0 1293.0,337.1 C1295.9,334.2 1298.8,336.4 1302.1,337.1 C1305.4,337.8 1306.9,338.6 1309.5,340.8 C1312.0,343.0 1312.8,348.8 1315.0,348.1 C1317.2,347.4 1317.9,338.6 1320.5,337.1 C1323.0,335.6 1324.6,337.8 1327.8,340.8 C1330.9,343.7 1333.7,350.7 1336.2,351.8 C1338.8,352.9 1338.9,346.8 1340.6,346.3 C1342.4,345.8 1343.2,350.3 1345.0,349.2 C1346.8,348.1 1347.6,341.5 1349.8,340.8 C1352.0,340.0 1353.8,349.6 1356.0,345.5 C1358.2,341.5 1359.1,324.1 1360.8,320.6 C1362.5,317.1 1362.2,322.8 1364.4,327.9 C1366.6,333.1 1368.8,341.1 1371.8,346.3 C1374.7,351.4 1376.2,354.0 1379.1,353.6 C1382.0,353.2 1383.5,348.5 1386.4,344.4 C1389.4,340.4 1391.2,335.9 1393.7,333.4 C1396.3,331.0 1397.3,336.0 1399.2,332.3 C1401.2,328.7 1402.2,317.5 1403.6,315.1 C1405.1,312.8 1405.3,312.9 1406.6,320.6 C1407.9,328.3 1408.0,345.9 1410.2,353.6 C1412.4,361.3 1413.9,361.1 1417.6,359.1 C1421.2,357.0 1424.2,343.8 1428.6,343.3 C1433.0,342.8 1435.2,351.5 1439.6,356.5 C1444.0,361.5 1447.6,368.1 1450.5,368.3 C1453.5,368.4 1451.6,361.3 1454.2,357.3 C1456.8,353.2 1460.4,352.6 1463.4,348.1 C1466.3,343.6 1466.7,334.9 1468.9,334.5 C1471.1,334.2 1471.3,344.5 1474.4,346.3 C1477.4,348.0 1481.0,341.1 1484.3,343.3 C1487.6,345.5 1488.4,355.2 1490.9,357.3 C1493.3,359.3 1493.8,352.5 1496.4,353.6 C1498.9,354.7 1500.7,359.8 1503.7,362.8 C1506.6,365.7 1508.8,369.7 1511.0,368.3 C1513.2,366.8 1513.4,357.8 1514.7,355.4 C1516.0,353.1 1515.9,356.2 1517.6,356.5 C1519.3,356.9 1520.4,354.5 1523.1,357.3 C1525.8,360.0 1525.5,366.4 1531.2,370.1 C1536.8,373.7 1545.5,376.7 1551.3,375.6 C1557.2,374.5 1556.8,363.9 1560.5,364.6 C1564.1,365.3 1566.0,378.1 1569.6,379.2 C1573.3,380.3 1577.0,371.9 1578.8,370.1" stroke="#cc2424" stroke-width="1.8" fill="none" stroke-linejoin="round"/><path d="M1516.5,268 V410" stroke="#c8c8cc" stroke-width="1" stroke-dasharray="3,3"/><circle cx="1516.5" cy="299.7" r="3" fill="#1d8a64"/><circle cx="1517.6" cy="356.5" r="3" fill="#cc2424"/><path d="M1513.6,261 H1519.4 L1516.5,265.5 Z" fill="#222"/></svg>
<div class="t" style="left:249.00px;top:90.13px;font-size:7.4px;font-weight:400;color:#2a2a30;-webkit-text-stroke:0.35px #2a2a30">Aug 17</div>
<div class="a" style="left:256.20px;top:110.10px;width:70.00px;height:38.50px;background:#fff;border:1px solid #e6e6ea;border-radius:4px;box-shadow:0 1px 3px rgba(0,0,0,0.06)"></div>
<svg class="a" style="left:252.70px;top:124.10px;" width="5" height="9" viewBox="0 0 5 9"><path d="M5 0 L0.5 4.5 L5 9 Z" fill="#fff"/><path d="M5 0 L0.5 4.5 L5 9" stroke="#e2e2e6" stroke-width="1" fill="none"/></svg>
<div class="t" style="left:263.70px;top:118.13px;font-size:7.4px;font-weight:400;color:#9b9ca3;">Assigned</div>
<div class="t" style="left:263.70px;top:131.29px;font-size:10.4px;font-weight:400;color:#26272d;">90 items</div>
<div class="a" style="left:256.20px;top:166.50px;width:70.00px;height:38.50px;background:#fff;border:1px solid #e6e6ea;border-radius:4px;box-shadow:0 1px 3px rgba(0,0,0,0.06)"></div>
<svg class="a" style="left:252.70px;top:180.50px;" width="5" height="9" viewBox="0 0 5 9"><path d="M5 0 L0.5 4.5 L5 9 Z" fill="#fff"/><path d="M5 0 L0.5 4.5 L5 9" stroke="#e2e2e6" stroke-width="1" fill="none"/></svg>
<div class="t" style="left:263.70px;top:174.53px;font-size:7.4px;font-weight:400;color:#9b9ca3;">Unssigned</div>
<div class="t" style="left:263.70px;top:187.69px;font-size:10.4px;font-weight:400;color:#26272d;">18 items</div>
<div class="a" style="left:4.40px;top:246.50px;width:8.50px;height:8.20px;background:#0f8a63;border-radius:1.8px"></div>
<div class="t" style="left:16.40px;top:246.89px;font-size:8.4px;font-weight:400;color:#9a9ca3;">Assigned</div>
<div class="a" style="left:59.40px;top:246.50px;width:8.50px;height:8.20px;background:#de1010;border-radius:1.8px"></div>
<div class="t" style="left:71.40px;top:246.89px;font-size:8.4px;font-weight:400;color:#9a9ca3;">Unassigned</div>
</div>
</div>
</body></html>
